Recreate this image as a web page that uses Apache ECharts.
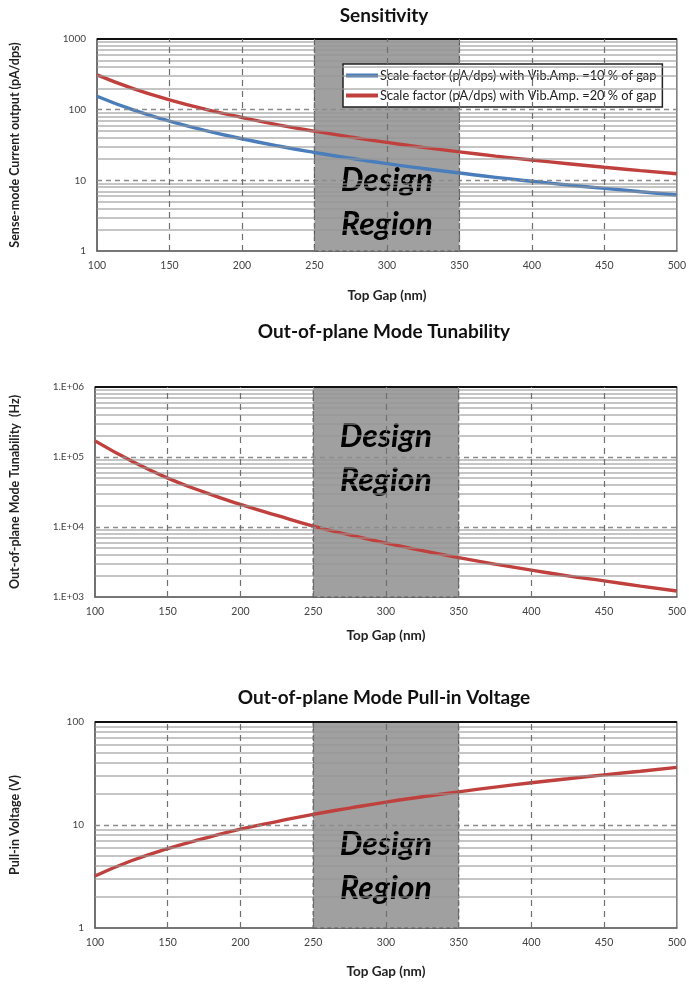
<!DOCTYPE html>
<html>
<head>
<meta charset="utf-8">
<script src="https://cdn.jsdelivr.net/npm/echarts@6/dist/echarts.min.js"></script>
<style>
  html, body { margin: 0; padding: 0; background: #fff; }
  #chart { width: 689px; height: 989px; }
</style>
</head>
<body>
<div id="chart"></div>
<script>
// Top gap (nm) sample points shared by all three panels
const gapNm = [100, 125, 150, 175, 200, 225, 250, 275, 300, 325, 350, 375, 400, 425, 450, 475, 500];

// Sensitivity (pA/dps)
const sens10 = [155, 99, 69, 50.6, 38.8, 30.6, 24.8, 20.5, 17.2, 14.7, 12.7, 11.0, 9.7, 8.6, 7.7, 6.9, 6.2];
const sens20 = [310, 198, 138, 101, 77.5, 61, 49.6, 41, 34.4, 29.3, 25.3, 22, 19.4, 17.2, 15.3, 13.7, 12.4];

// Out-of-plane mode tunability (Hz)
const tunability = [170000, 88000, 50000, 31500, 21000, 14600, 10300, 7700, 5900, 4600, 3650, 2950, 2420, 2000, 1700, 1430, 1220];

// Out-of-plane pull-in voltage (V)
const pullIn = [3.2, 4.5, 5.9, 7.4, 9.1, 10.8, 12.7, 14.6, 16.7, 18.8, 21.0, 23.3, 25.7, 28.1, 30.7, 33.3, 36.3];

// Design window on the gap axis
const designRegion = [250, 350];

// Axis ranges and label text
const xTicks = [100, 150, 200, 250, 300, 350, 400, 450, 500];
const sensRange = [1, 1000];
const tunRange = [1000, 1000000];
const pullRange = [1, 100];

const titles = ['Sensitivity', 'Out-of-plane Mode Tunability', 'Out-of-plane Mode Pull-in Voltage'];
const yNames = ['Sense-mode Current output (pA/dps)', 'Out-of-plane Mode Tunability  (Hz)', 'Pull-in Voltage (V)'];
const xName = 'Top Gap (nm)';
const legendNames = [
  'Scale factor (pA/dps) with Vib.Amp. =10 % of gap',
  'Scale factor (pA/dps) with Vib.Amp. =20 % of gap'
];

const BLUE = '#4a7dbb';
const RED = '#c0403d';
const FONT = 'Lato, "Open Sans", sans-serif';

function pairs(ys) { return gapNm.map((x, i) => [x, ys[i]]); }

// Horizontal grid lines for a log range: solid minor lines at 2..9 of each decade,
// dashed lines at the decades, a heavier frame line at the top.
function logGridLines(range) {
  const out = [];
  for (let d = range[0]; d < range[1]; d *= 10) {
    for (let k = 2; k <= 9; k++) {
      out.push({ yAxis: d * k, lineStyle: { color: 'rgba(150,150,150,0.55)', width: 2, type: 'solid' } });
    }
    if (d > range[0]) {
      out.push({ yAxis: d, lineStyle: { color: '#8c8c8c', width: 1.3, type: [5, 4] } });
    }
  }
  out.push({ yAxis: range[1], lineStyle: { color: '#111', width: 2.2, type: 'solid' } });
  return out;
}
function verticalLines() {
  return xTicks.slice(1, -1).map(v => ({ xAxis: v, lineStyle: { color: '#6f6f6f', width: 1.2, type: [6, 5] } }));
}

function regionSeries(idx, labelDy) {
  return {
    type: 'line', xAxisIndex: idx, yAxisIndex: idx, data: [], z: 1, silent: true,
    markArea: {
      silent: true,
      itemStyle: { color: '#a0a0a0', borderColor: '#555', borderWidth: 1.2, borderType: [4, 3] },
      label: {
        show: true, position: 'inside', offset: [0, labelDy],
        formatter: 'Design\nRegion',
        fontFamily: FONT, fontSize: 32, fontWeight: 'bold', fontStyle: 'italic',
        color: '#000', lineHeight: 44
      },
      data: [[{ xAxis: designRegion[0] }, { xAxis: designRegion[1] }]]
    }
  };
}
function gridSeries(idx, range) {
  return {
    type: 'line', xAxisIndex: idx, yAxisIndex: idx, data: [], z: 2, silent: true,
    markLine: {
      silent: true, symbol: 'none', label: { show: false }, animation: false,
      data: logGridLines(range).concat(verticalLines())
    }
  };
}
function curve(idx, name, ys, color) {
  return {
    type: 'line', name: name, xAxisIndex: idx, yAxisIndex: idx, data: pairs(ys), z: 3,
    smooth: true, showSymbol: false, symbol: 'none',
    lineStyle: { color: color, width: 3.4 }, itemStyle: { color: color }
  };
}

const gridBox = [
  { left: 90, right: 10, top: 39, height: 212 },
  { left: 88, right: 11, top: 387, height: 210 },
  { left: 90, right: 10, top: 722, height: 206 }
];
const yRanges = [sensRange, tunRange, pullRange];
const yNameGap = [76, 74, 74];
const xNameGap = [38, 32, 37];

const option = {
  backgroundColor: '#fff',
  animation: false,
  textStyle: { fontFamily: FONT },
  title: titles.map((t, i) => ({
    text: t, left: 379, textAlign: 'center', top: [1, 317, 683][i],
    textStyle: { fontFamily: FONT, fontSize: 19, fontWeight: 'bold', color: '#111' }
  })),
  legend: {
    data: legendNames, orient: 'vertical', left: 343, top: 64,
    backgroundColor: '#fff', borderColor: '#222', borderWidth: 1.5,
    padding: [5, 6, 5, 3], itemGap: 7, itemWidth: 32, itemHeight: 4, icon: 'rect',
    textStyle: { fontFamily: FONT, fontSize: 12.8, color: '#222', padding: [0, 0, 0, -3] }
  },
  grid: gridBox.map(g => Object.assign({ show: true, borderColor: '#555', borderWidth: 1.2, backgroundColor: 'transparent' }, g)),
  xAxis: gridBox.map((g, i) => ({
    type: 'value', gridIndex: i, min: 100, max: 500, interval: 50,
    name: xName, nameLocation: 'middle', nameGap: xNameGap[i],
    nameTextStyle: { fontFamily: FONT, fontSize: 13.5, fontWeight: 'bold', color: '#222' },
    axisLine: { show: true, lineStyle: { color: '#666', width: 1.5 } },
    axisTick: { show: false },
    splitLine: { show: false },
    axisLabel: { fontFamily: FONT, fontSize: 10.5, color: '#444', margin: 9 }
  })),
  yAxis: yRanges.map((r, i) => ({
    type: 'log', logBase: 10, gridIndex: i, min: r[0], max: r[1],
    name: yNames[i], nameLocation: 'middle', nameGap: yNameGap[i], nameRotate: 90,
    nameTextStyle: { fontFamily: FONT, fontSize: 12.5, fontWeight: 'bold', color: '#222' },
    axisLine: { show: true, lineStyle: { color: '#666', width: 1.5 } },
    axisTick: { show: false },
    splitLine: { show: false },
    axisLabel: {
      fontFamily: FONT, fontSize: 10, color: '#444', margin: 11,
      formatter: i === 1
        ? (v => '1.E+0' + Math.round(Math.log10(v)))
        : (v => String(Math.round(v)))
    }
  })),
  series: [
    regionSeries(0, 58),
    gridSeries(0, sensRange),
    curve(0, legendNames[0], sens10, BLUE),
    curve(0, legendNames[1], sens20, RED),

    regionSeries(1, -33),
    gridSeries(1, tunRange),
    curve(1, 'Tunability', tunability, RED),

    regionSeries(2, 42),
    gridSeries(2, pullRange),
    curve(2, 'Pull-in voltage', pullIn, RED)
  ]
};

const chart = echarts.init(document.getElementById('chart'), null, { renderer: 'canvas' });
chart.setOption(option);
</script>
</body>
</html>
